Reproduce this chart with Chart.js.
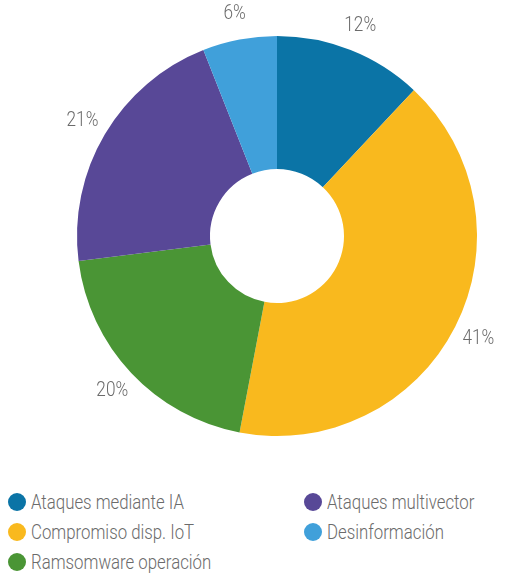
<!DOCTYPE html>
<html>
<head>
<meta charset="utf-8">
<script src="https://cdn.jsdelivr.net/npm/chart.js@4/dist/chart.umd.min.js"></script>
<style>
  body { margin: 0; background: #fff; }
  #wrap { position: relative; width: 510px; height: 470px; }
  #legend {
    display: grid;
    grid-auto-flow: column;
    grid-template-rows: 30px 30px 30px;
    grid-template-columns: 296px 206px;
    padding: 17px 0 0 8px;
    font-family: Roboto, sans-serif;
    font-weight: 300;
    font-size: 20px;
    color: #6b6b6b;
  }
  .item { display: flex; align-items: center; white-space: nowrap; }
  .dot { width: 18px; height: 18px; border-radius: 50%; margin-right: 5px; flex: none; }
  .txt { display: inline-block; transform: scaleX(0.84); transform-origin: left center; }
</style>
</head>
<body>
<div id="wrap"><canvas id="chart"></canvas></div>
<div id="legend"></div>
<script>
const labels = ['Ataques mediante IA', 'Compromiso disp. IoT', 'Ramsomware operación', 'Ataques multivector', 'Desinformación'];
const values = [12, 41, 20, 21, 6];
const colors = ['#0b74a6', '#f9b91e', '#4a9535', '#584897', '#40a0da'];

// percentage labels outside each slice
const outsideLabels = {
  id: 'outsideLabels',
  afterDatasetsDraw(chart) {
    const ctx = chart.ctx;
    ctx.save();
    ctx.font = '300 20px Roboto, sans-serif';
    ctx.fillStyle = '#6b6b6b';
    ctx.textAlign = 'center';
    ctx.textBaseline = 'middle';
    chart.getDatasetMeta(0).data.forEach((arc, i) => {
      const p = arc.getProps(['x', 'y', 'startAngle', 'endAngle', 'outerRadius'], true);
      const mid = (p.startAngle + p.endAngle) / 2;
      const r = p.outerRadius + 26;
      const x = p.x + Math.cos(mid) * r;
      const y = p.y + Math.sin(mid) * r;
      ctx.save();
      ctx.translate(x, y);
      ctx.scale(0.86, 1);
      ctx.fillText(values[i] + '%', 0, 0);
      ctx.restore();
    });
    ctx.restore();
  }
};

new Chart(document.getElementById('chart'), {
  type: 'doughnut',
  data: {
    labels: labels,
    datasets: [{
      data: values,
      backgroundColor: colors,
      borderWidth: 0,
      hoverOffset: 0
    }]
  },
  options: {
    responsive: true,
    maintainAspectRatio: false,
    animation: false,
    cutout: '33.5%',
    layout: { padding: { left: 77, right: 33, top: 36, bottom: 34 } },
    plugins: {
      legend: { display: false },
      tooltip: { enabled: false }
    }
  },
  plugins: [outsideLabels]
});

const legend = document.getElementById('legend');
labels.forEach((l, i) => {
  const item = document.createElement('div');
  item.className = 'item';
  item.innerHTML = '<span class="dot" style="background:' + colors[i] + '"></span><span class="txt">' + l + '</span>';
  legend.appendChild(item);
});
</script>
</body>
</html>
